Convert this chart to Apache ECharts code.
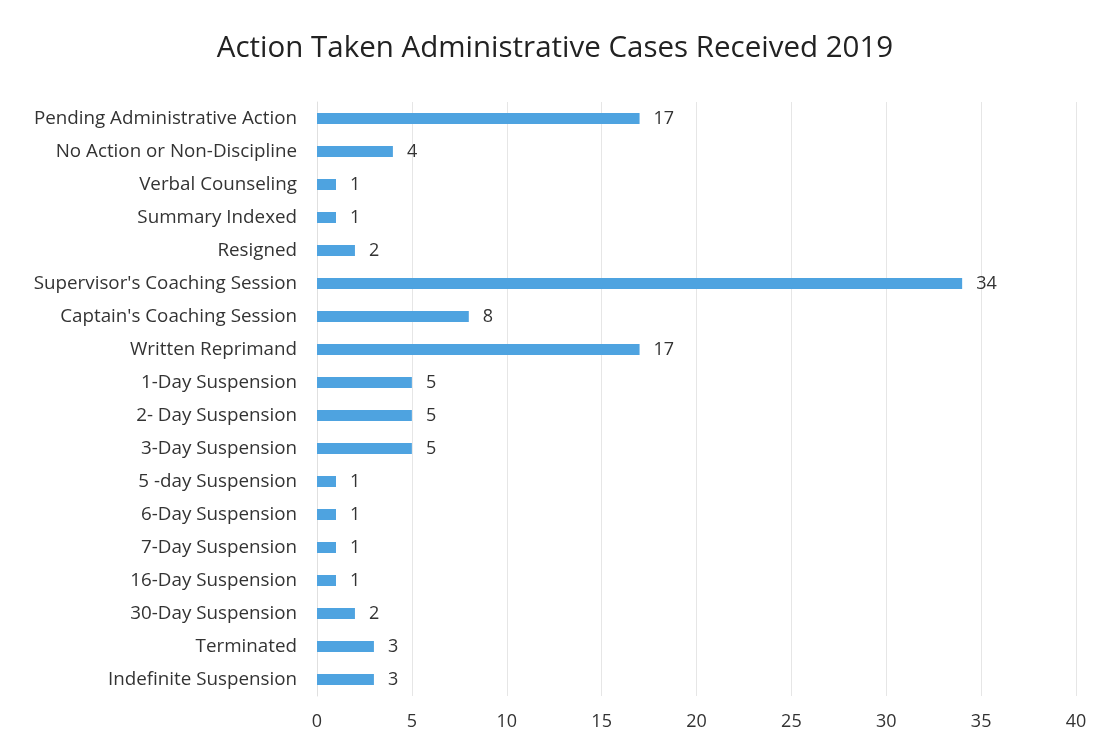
<!DOCTYPE html>
<html>
<head>
<meta charset="utf-8">
<script src="https://cdn.jsdelivr.net/npm/echarts@6/dist/echarts.min.js"></script>
<style>
  html, body { margin: 0; padding: 0; background: #fff; }
  #chart { width: 1110px; height: 746px; }
</style>
</head>
<body>
<div id="chart"></div>
<script>
// categories listed top to bottom as in the picture
var categories = [
  'Pending Administrative Action',
  'No Action or Non-Discipline',
  'Verbal Counseling',
  'Summary Indexed',
  'Resigned',
  "Supervisor's Coaching Session",
  "Captain's Coaching Session",
  'Written Reprimand',
  '1-Day Suspension',
  '2- Day Suspension',
  '3-Day Suspension',
  '5 -day Suspension',
  '6-Day Suspension',
  '7-Day Suspension',
  '16-Day Suspension',
  '30-Day Suspension',
  'Terminated',
  'Indefinite Suspension'
];
var counts = [17, 4, 1, 1, 2, 34, 8, 17, 5, 5, 5, 1, 1, 1, 1, 2, 3, 3];
var titleText = 'Action Taken Administrative Cases Received 2019';

var myChart = echarts.init(document.getElementById('chart'));

var option = {
    animation: false,
    backgroundColor: '#fff',
    title: {
        text: titleText,
        left: 'center',
        top: 29,
        textStyle: {
            fontFamily: 'Open Sans',
            fontWeight: 'normal',
            fontSize: 29.5,
            color: '#222'
        }
    },
    grid: {
        left: 317,
        right: 34,
        top: 102,
        bottom: 50,
        containLabel: false
    },
    xAxis: {
        type: 'value',
        min: 0,
        max: 40,
        interval: 5,
        axisLine: { show: false },
        axisTick: { show: false },
        splitLine: { lineStyle: { color: '#e6e6e6', width: 1 } },
        axisLabel: {
            fontFamily: 'Open Sans',
            fontSize: 18,
            color: '#333',
            margin: 17
        }
    },
    yAxis: {
        type: 'category',
        inverse: true,
        data: categories,
        axisLine: { show: true, lineStyle: { color: '#e0e0e0' } },
        axisTick: { show: false },
        axisLabel: {
            fontFamily: 'Open Sans',
            fontSize: 18.8,
            color: '#333',
            margin: 20
        }
    },
    series: [
        {
            type: 'bar',
            data: counts,
            barWidth: 11,
            itemStyle: { color: '#4ea3e0' },
            label: {
                show: true,
                position: 'right',
                distance: 14,
                fontFamily: 'Open Sans',
                fontSize: 18,
                color: '#333'
            }
        }
    ]
};

myChart.setOption(option, true);
</script>
</body>
</html>
